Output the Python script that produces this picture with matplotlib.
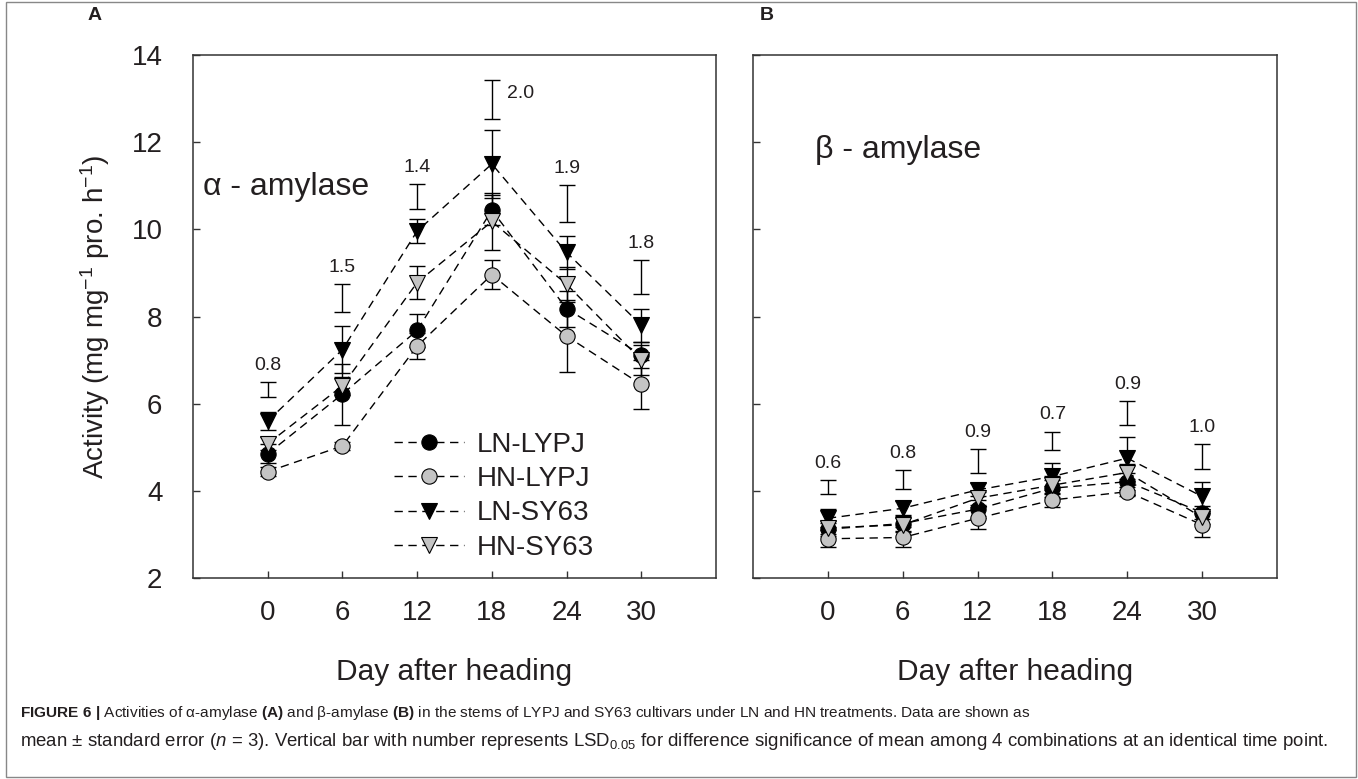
import numpy as np
import matplotlib
matplotlib.use('Agg')
import matplotlib.pyplot as plt
from matplotlib.patches import Rectangle

plt.rcParams['font.family'] = ['Liberation Sans', 'DejaVu Sans']
plt.rcParams['mathtext.fontset'] = 'custom'
plt.rcParams['mathtext.rm'] = 'Liberation Sans'
plt.rcParams['mathtext.it'] = 'Liberation Sans:italic'
plt.rcParams['mathtext.bf'] = 'Liberation Sans:bold'

days = [0, 6, 12, 18, 24, 30]
series = ['LN-LYPJ', 'HN-LYPJ', 'LN-SY63', 'HN-SY63']

# panel A: alpha-amylase
ln_lypj_a = [4.85, 6.22, 7.68, 10.44, 8.18, 7.12]
hn_lypj_a = [4.44, 5.03, 7.32, 8.96, 7.55, 6.44]
ln_sy63_a = [5.60, 7.24, 9.96, 11.50, 9.47, 7.80]
hn_sy63_a = [5.08, 6.41, 8.78, 10.18, 8.74, 7.00]
ln_lypj_a_se = [0.22, 0.70, 0.38, 0.35, 0.41, 0.30]
hn_lypj_a_se = [0.10, 0.10, 0.30, 0.33, 0.82, 0.57]
ln_sy63_a_se = [0.20, 0.54, 0.28, 0.78, 0.38, 0.38]
hn_sy63_a_se = [0.15, 0.20, 0.38, 0.65, 0.40, 0.35]
lsd_top_a = [6.49, 8.74, 11.05, 13.42, 11.01, 9.29]
lsd_bot_a = [6.15, 8.10, 10.46, 12.53, 10.17, 8.51]
lsd_txt_a = ['0.8', '1.5', '1.4', '2.0', '1.9', '1.8']

# panel B: beta-amylase
ln_lypj_b = [3.12, 3.25, 3.58, 4.06, 4.21, 3.50]
hn_lypj_b = [2.90, 2.93, 3.37, 3.79, 3.98, 3.22]
ln_sy63_b = [3.37, 3.60, 4.02, 4.33, 4.75, 3.87]
hn_sy63_b = [3.15, 3.22, 3.83, 4.13, 4.42, 3.39]
ln_lypj_b_se = [0.15, 0.20, 0.20, 0.20, 0.20, 0.15]
hn_lypj_b_se = [0.20, 0.23, 0.25, 0.15, 0.10, 0.27]
ln_sy63_b_se = [0.21, 0.17, 0.15, 0.32, 0.48, 0.33]
hn_sy63_b_se = [0.15, 0.15, 0.15, 0.20, 0.20, 0.15]
lsd_top_b = [4.25, 4.48, 4.96, 5.36, 6.07, 5.07]
lsd_bot_b = [3.92, 4.04, 4.42, 4.94, 5.51, 4.49]
lsd_txt_b = ['0.6', '0.8', '0.9', '0.7', '0.9', '1.0']

styles = {'LN-LYPJ': ('o', 'black'), 'HN-LYPJ': ('o', '#c4c4c4'),
          'LN-SY63': ('v', 'black'), 'HN-SY63': ('v', '#c4c4c4')}
ink = '#231f20'

fig = plt.figure(figsize=(13.58, 7.79), dpi=100)
axA = fig.add_axes([193/1358, 1-578/779, 523/1358, 523/779])
axB = fig.add_axes([753/1358, 1-578/779, 524/1358, 523/779])


def draw(ax, vals, ses, lsd_top, lsd_bot, lsd_txt, right_label=None):
    for name, v, se in zip(series, vals, ses):
        m, c = styles[name]
        ax.errorbar(days, v, yerr=se, fmt='none', ecolor='black', elinewidth=1,
                    capsize=6, capthick=1, zorder=2)
        ax.plot(days, v, linestyle=(0, (6, 4)), color='black', lw=1,
                marker=m, markersize=11, markerfacecolor=c,
                markeredgecolor='black', markeredgewidth=0.8, label=name, zorder=3)
    lo = np.array(lsd_bot)
    hi = np.array(lsd_top)
    ax.errorbar(days, (lo + hi) / 2, yerr=(hi - lo) / 2, fmt='none', ecolor='black',
                elinewidth=1, capsize=6, capthick=1)
    for i, (d, t, s) in enumerate(zip(days, lsd_top, lsd_txt)):
        if right_label is not None and i == right_label:
            ax.text(d + 1.2, t - 0.3, s, ha='left', va='center', fontsize=14, color=ink)
        else:
            ax.text(d, t + 0.38, s, ha='center', va='center', fontsize=14, color=ink)
    ax.set_xlim(-6, 36)
    ax.set_ylim(2, 14)
    ax.set_xticks(days)
    ax.set_yticks(range(2, 15, 2))
    ax.tick_params(direction='in', length=5, width=1, labelsize=20, colors='#333333',
                   labelcolor=ink)
    ax.tick_params(axis='x', pad=16)
    ax.tick_params(axis='y', pad=22)
    for sp in ax.spines.values():
        sp.set_color('#333333')
        sp.set_linewidth(1.1)
    ax.set_xlabel('Day after heading', fontsize=21.5, color=ink, labelpad=23)


draw(axA, [ln_lypj_a, hn_lypj_a, ln_sy63_a, hn_sy63_a],
     [ln_lypj_a_se, hn_lypj_a_se, ln_sy63_a_se, hn_sy63_a_se],
     lsd_top_a, lsd_bot_a, lsd_txt_a, right_label=3)
draw(axB, [ln_lypj_b, hn_lypj_b, ln_sy63_b, hn_sy63_b],
     [ln_lypj_b_se, hn_lypj_b_se, ln_sy63_b_se, hn_sy63_b_se],
     lsd_top_b, lsd_bot_b, lsd_txt_b)
axB.tick_params(axis='y', labelleft=False)

axA.set_ylabel('Activity (mg mg$^{-1}$ pro. h$^{-1}$)', fontsize=20, color=ink, labelpad=14)
axA.text(-5.2, 10.97, 'α - amylase', fontsize=23, color=ink, va='center', ha='left')
axB.text(-1.0, 11.82, 'β - amylase', fontsize=23, color=ink, va='center', ha='left')

axA.legend(loc='upper left', bbox_to_anchor=(0.385, 0.28), frameon=False, fontsize=20,
           handlelength=2.5, handletextpad=0.45, labelspacing=0.3, borderpad=0,
           borderaxespad=0, labelcolor=ink)

fig.text(88/1358, 1-16/779, 'A', fontsize=14, fontweight='bold', color=ink, va='center')
fig.text(760/1358, 1-16/779, 'B', fontsize=14, fontweight='bold', color=ink, va='center')

cap1 = (r'$\mathbf{FIGURE\ 6\ |}$ Activities of α-amylase $\mathbf{(A)}$ and β-amylase '
        r'$\mathbf{(B)}$ in the stems of LYPJ and SY63 cultivars under LN and HN treatments. '
        r'Data are shown as')
cap2 = (r'mean ± standard error ($\mathit{n}$ = 3). Vertical bar with number represents '
        r'LSD$_{0.05}$ for difference significance of mean among 4 combinations at an identical time point.')
fig.text(20/1358, 1-713/779, cap1, fontsize=11.1, color=ink, va='center')
fig.text(20/1358, 1-742/779, cap2, fontsize=13.4, color=ink, va='center')

fig.patches.append(Rectangle((6/1358, 2/779), 1350/1358, 775/779, transform=fig.transFigure,
                             fill=False, edgecolor='#888888', lw=1))

fig.savefig('out.png', dpi=100)
